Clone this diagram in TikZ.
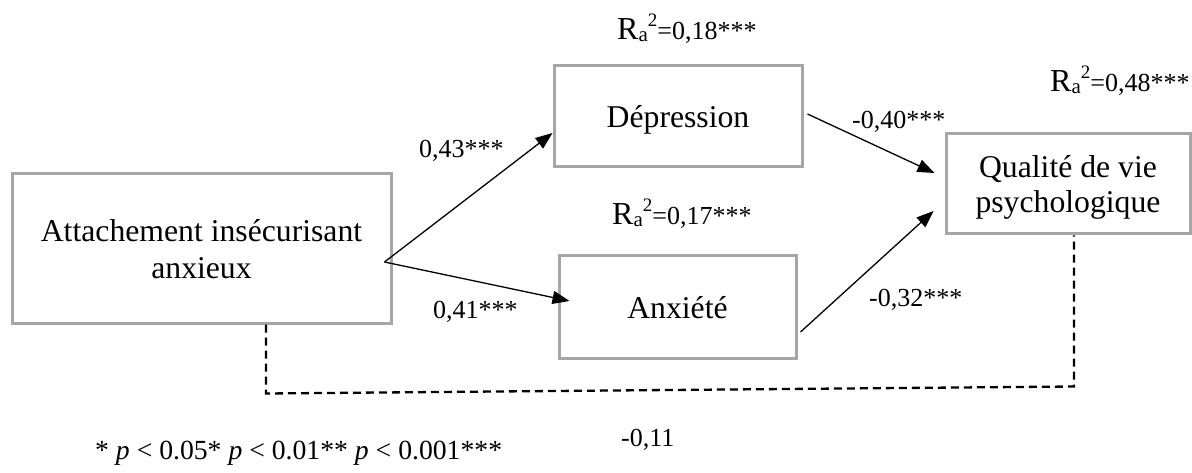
\documentclass[tikz,border=0pt]{standalone}
\usepackage{fontspec}
\setmainfont{Liberation Serif}
\usetikzlibrary{arrows.meta}
\definecolor{boxgray}{RGB}{166,166,166}
\newcommand{\RsqLabel}[1]{{\fontsize{32}{32}\selectfont R}\raisebox{-2pt}{\fontsize{21}{21}\selectfont a}\raisebox{13pt}{\fontsize{19}{19}\selectfont 2}{\fontsize{26}{26}\selectfont =#1}}
\begin{document}
\begin{tikzpicture}[x=1pt,y=-1pt,
  box/.style={draw=boxgray,line width=3pt,inner sep=0pt,align=center,text depth=0pt,
    font=\fontsize{31.7}{37}\selectfont},
  lbl/.style={inner sep=0pt,anchor=base west,font=\fontsize{26}{26}\selectfont},
  arr/.style={line width=1.3pt,-{Triangle[length=17pt,width=13pt]}},
  dsh/.style={line width=2.3pt,dash pattern=on 8pt off 5pt}]
\useasboundingbox (0,0) rectangle (1192,473);
% boxes
\node[box,minimum width=379pt,minimum height=149pt] (att) at (201.5,248.5) {Attachement insécurisant\\anxieux};
\node[box,minimum width=248pt,minimum height=101pt] (dep) at (678,116.5) {Dépression};
\node[box,minimum width=237pt,minimum height=102pt] (anx) at (677.5,307) {Anxiété};
\node[box,minimum width=244pt,minimum height=100pt,font=\fontsize{31.7}{35}\selectfont] (qual) at (1068,184) {Qualité de vie\\psychologique};
% connector end points
\coordinate (src) at ([xshift=-8pt,yshift=-13.5pt]att.east);
\coordinate (depin) at ([yshift=-16.5pt]dep.west);
\coordinate (anxin) at ([xshift=12pt,yshift=6pt]anx.west);
\coordinate (depout) at ([xshift=4pt,yshift=2.5pt]dep.east);
\coordinate (anxout) at ([xshift=3pt,yshift=-25pt]anx.east);
\coordinate (qin1) at ([xshift=-10pt,yshift=11pt]qual.west);
\coordinate (qin2) at ([xshift=-11pt,yshift=-27pt]qual.west);
\coordinate (ls) at ([xshift=64.5pt]att.south);
\coordinate (qs) at ([xshift=6pt]qual.south);
% arrows
\draw[arr] (src) -- (depin);
\draw[arr] (src) -- (anxin);
\draw[arr] (depout) -- (qin1);
\draw[arr] (anxout) -- (qin2);
\draw[dsh] (ls) -- ++(0,69) -- ([yshift=-151pt]qs) -- (qs);
% labels
\node[lbl] (r1) at (617,40) {\RsqLabel{0,18***}};
\node[lbl] (r2) at (612,225) {\RsqLabel{0,17***}};
\node[lbl] (r3) at (1050,92) {\RsqLabel{0,48***}};
\node[lbl] (l1) at (419,158) {0,43***};
\node[lbl] (l2) at (433,318) {0,41***};
\node[lbl] (l3) at (852,129) {-0,40***};
\node[lbl] (l4) at (869,306) {-0,32***};
\node[lbl] (l5) at (621,446) {-0,11};
\node[lbl,font=\fontsize{27.7}{27.7}\selectfont] (fn) at (95,459) {* \textit{p} < 0.05* \textit{p} < 0.01** \textit{p} < 0.001***};
\end{tikzpicture}
\end{document}
